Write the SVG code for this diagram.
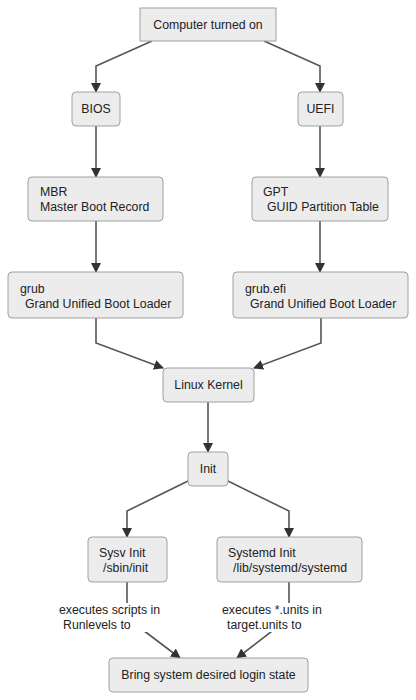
<svg xmlns="http://www.w3.org/2000/svg" width="416" height="700" viewBox="0 0 416 700">
<style>
.n rect{fill:#ececec;stroke:#a0a0a0;stroke-width:1}
text{font-family:"Liberation Sans",Arial,sans-serif;font-size:12.3px;fill:#222}
.c{text-anchor:middle}
.e path{fill:none;stroke:#555;stroke-width:1.6}
.lb{fill:#fff;stroke:none}
</style>
<defs>
<marker id="ah" viewBox="0 0 10 10" refX="9" refY="5" markerWidth="10" markerHeight="10" markerUnits="userSpaceOnUse" orient="auto">
<path d="M0,0 L10,5 L0,10 z" fill="#333"/>
</marker>
</defs>
<rect width="416" height="700" fill="#fff"/>
<g class="e">
<path d="M152,41 L96,66 L96,92" marker-end="url(#ah)"/>
<path d="M264,41 L320,66 L320,92" marker-end="url(#ah)"/>
<path d="M96,126 L96,177" marker-end="url(#ah)"/>
<path d="M320,126 L320,177" marker-end="url(#ah)"/>
<path d="M96,221 L96,272" marker-end="url(#ah)"/>
<path d="M320,221 L320,272" marker-end="url(#ah)"/>
<path d="M96,318 L96,343 L163,368" marker-end="url(#ah)"/>
<path d="M321,318 L321,343 L254,368" marker-end="url(#ah)"/>
<path d="M208,402 L208,452" marker-end="url(#ah)"/>
<path d="M188,481 L127,511 L127,537" marker-end="url(#ah)"/>
<path d="M228,481 L289,511 L289,537" marker-end="url(#ah)"/>
<path d="M127,582 L127,618 L180,658" marker-end="url(#ah)"/>
<path d="M289,582 L289,618 L237,658" marker-end="url(#ah)"/>
<g id="label-sysv"><rect class="lb" x="58" y="603" width="108" height="29"/>
<text x="59" y="614">executes scripts in<tspan x="63" dy="14.5">Runlevels to</tspan></text></g>
<g id="label-systemd"><rect class="lb" x="221" y="603" width="106" height="29"/>
<text x="222" y="614">executes *.units in<tspan x="227" dy="14.5">target.units to</tspan></text></g>
</g>
<g id="computer" class="n"><rect x="140" y="8" width="136" height="33"/><text class="c" x="208" y="29">Computer turned on</text></g>
<g id="bios" class="n"><rect x="72" y="92" width="48" height="34" rx="4"/><text class="c" x="96" y="113">BIOS</text></g>
<g id="uefi" class="n"><rect x="298" y="92" width="45" height="34" rx="4"/><text class="c" x="320.5" y="113">UEFI</text></g>
<g id="mbr" class="n"><rect x="28" y="177" width="135" height="44" rx="4"/><text x="40" y="196">MBR<tspan x="40" dy="14.5">Master Boot Record</tspan></text></g>
<g id="gpt" class="n"><rect x="252" y="177" width="136" height="44" rx="4"/><text x="263" y="196">GPT<tspan x="267" dy="14.5">GUID Partition Table</tspan></text></g>
<g id="grub" class="n"><rect x="8" y="272" width="175" height="46" rx="4"/><text x="20" y="293">grub<tspan x="25" dy="14.5">Grand Unified Boot Loader</tspan></text></g>
<g id="grubefi" class="n"><rect x="233" y="272" width="175" height="46" rx="4"/><text x="245" y="293">grub.efi<tspan x="250" dy="14.5">Grand Unified Boot Loader</tspan></text></g>
<g id="kernel" class="n"><rect x="163" y="368" width="91" height="34" rx="4"/><text class="c" x="208.5" y="389">Linux Kernel</text></g>
<g id="init" class="n"><rect x="188" y="452" width="40" height="34" rx="4"/><text class="c" x="208" y="473">Init</text></g>
<g id="sysv" class="n"><rect x="88" y="537" width="79" height="45" rx="4"/><text x="99" y="557">Sysv Init<tspan x="103" dy="14.5">/sbin/init</tspan></text></g>
<g id="systemd" class="n"><rect x="217" y="537" width="145" height="45" rx="4"/><text x="228" y="557">Systemd Init<tspan x="233" dy="14.5">/lib/systemd/systemd</tspan></text></g>
<g id="login" class="n"><rect x="109" y="658" width="199" height="34" rx="4"/><text class="c" x="208.5" y="679">Bring system desired login state</text></g>
</svg>
